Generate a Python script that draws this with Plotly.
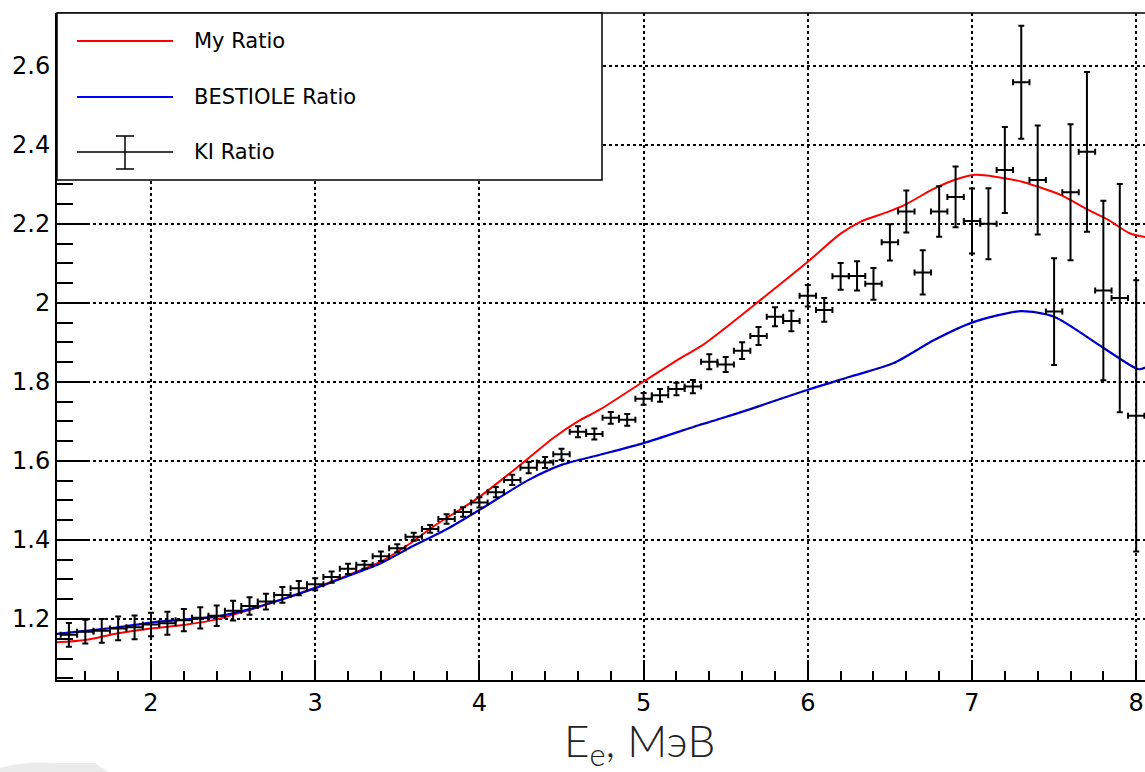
import plotly.graph_objects as go

# ---- data -------------------------------------------------------------
# My Ratio (red curve)
my_x = [1.42, 1.6, 1.8, 2.0, 2.2, 2.4, 2.6, 2.8, 3.0, 3.2, 3.4, 3.57, 3.72,
        4.0, 4.3, 4.45, 4.6, 4.73, 5.0, 5.24, 5.345, 5.49, 5.69, 6.0,
        6.2, 6.32, 6.48, 6.6, 6.76, 6.88, 7.02, 7.16, 7.3, 7.4, 7.54, 7.69,
        7.83, 7.96, 8.06]
my_y = [1.141, 1.147, 1.164, 1.176, 1.185, 1.199, 1.223, 1.250, 1.279, 1.311,
        1.345, 1.389, 1.434, 1.509, 1.607, 1.658, 1.700, 1.729, 1.801,
        1.864, 1.889, 1.934, 2.000, 2.104, 2.175, 2.205, 2.229, 2.250, 2.287,
        2.309, 2.324, 2.318, 2.307, 2.294, 2.273, 2.239, 2.210, 2.176, 2.166]

# BESTIOLE Ratio (blue curve)
best_x = [1.42, 1.6, 1.8, 2.0, 2.2, 2.4, 2.6, 2.8, 3.0, 3.2, 3.4, 3.57, 3.8,
          4.0, 4.3, 4.5, 4.73, 5.0, 5.34, 5.445, 5.65, 6.0, 6.257, 6.52,
          6.77, 7.0, 7.296, 7.5, 7.79, 8.014, 8.06]
best_y = [1.162, 1.170, 1.179, 1.191, 1.198, 1.206, 1.225, 1.250, 1.278, 1.309,
          1.341, 1.379, 1.427, 1.476, 1.552, 1.590, 1.615, 1.645, 1.691,
          1.704, 1.731, 1.780, 1.813, 1.847, 1.906, 1.950, 1.979, 1.965, 1.889,
          1.832, 1.837]

# KI Ratio (points with errors), bins of 0.1 MeV
ki_x = [round(1.5 + 0.1 * i, 1) for i in range(66)]
ki_y = [1.160, 1.168, 1.170, 1.176, 1.179, 1.186, 1.189, 1.197, 1.203, 1.208,
        1.221, 1.233, 1.244, 1.261, 1.278, 1.288, 1.306, 1.327, 1.337, 1.359,
        1.379, 1.408, 1.428, 1.453, 1.471, 1.495, 1.521, 1.552, 1.583, 1.596,
        1.617, 1.674, 1.668, 1.709, 1.704, 1.757, 1.766, 1.782, 1.788, 1.851,
        1.844, 1.879, 1.916, 1.965, 1.954, 2.018, 1.982, 2.067, 2.068, 2.048,
        2.153, 2.231, 2.077, 2.231, 2.268, 2.207, 2.200, 2.336, 2.558, 2.311,
        1.978, 2.280, 2.382, 2.031, 2.012, 1.714]
ki_err = [0.030, 0.030, 0.030, 0.030, 0.030, 0.030, 0.029, 0.028, 0.027, 0.026,
          0.025, 0.022, 0.020, 0.020, 0.018, 0.015, 0.014, 0.013, 0.010, 0.012,
          0.010, 0.010, 0.010, 0.012, 0.012, 0.013, 0.013, 0.013, 0.014, 0.014,
          0.014, 0.014, 0.014, 0.015, 0.015, 0.015, 0.016, 0.016, 0.017, 0.019,
          0.019, 0.021, 0.023, 0.024, 0.026, 0.027, 0.030, 0.034, 0.037, 0.040,
          0.046, 0.053, 0.056, 0.064, 0.077, 0.082, 0.090, 0.109, 0.143, 0.138,
          0.135, 0.172, 0.202, 0.227, 0.289, 0.343]
ki_halfbin = [0.05] * len(ki_x)

legend_labels = ["My Ratio", "BESTIOLE Ratio", "KI Ratio"]

# ---- geometry (pixels) -------------------------------------------------
W, H = 1145, 772
ML, MR, MT, MB = 57, 0, 13, 92
PW, PH = W - ML - MR, H - MT - MB


def px(xp):
    return (xp - ML) / PW


def py(yp):
    return (H - MB - yp) / PH


SANS = "DejaVu Sans, Verdana, sans-serif"
TICK_FONT = dict(family=SANS, size=24, color="black")

fig = go.Figure()

fig.add_trace(go.Scatter(x=my_x, y=my_y, mode="lines",
                         line=dict(color="#ff0000", width=2, shape="spline", smoothing=0.8),
                         name=legend_labels[0]))
fig.add_trace(go.Scatter(x=best_x, y=best_y, mode="lines",
                         line=dict(color="#0000ff", width=2.2, shape="spline", smoothing=0.7),
                         name=legend_labels[1]))
fig.add_trace(go.Scatter(x=best_x, y=best_y, mode="lines",
                         line=dict(color="rgba(0,0,30,0.8)", width=1.2, dash="dot",
                                   shape="spline", smoothing=0.7),
                         showlegend=False, hoverinfo="skip"))
fig.add_trace(go.Scatter(x=ki_x, y=ki_y, mode="markers",
                         marker=dict(size=1, color="black"),
                         error_y=dict(type="data", array=ki_err, visible=True,
                                      color="black", thickness=2, width=3),
                         error_x=dict(type="data", array=ki_halfbin, visible=True,
                                      color="black", thickness=2, width=3),
                         name=legend_labels[2]))

fig.update_layout(
    width=W, height=H,
    margin=dict(l=ML, r=MR, t=MT, b=MB),
    plot_bgcolor="white", paper_bgcolor="white",
    showlegend=False,
)

fig.update_xaxes(
    range=[1.4275, 8.0536], tickmode="linear", tick0=0, dtick=1,
    ticks="inside", ticklen=20, tickwidth=1.5, tickcolor="black",
    showline=True, linewidth=2, linecolor="black", zeroline=False,
    showgrid=True, gridcolor="black", griddash="dot", gridwidth=1.5,
    minor=dict(tick0=0, dtick=0.2, ticks="inside", ticklen=9, tickwidth=1.5,
               tickcolor="black", showgrid=False),
    tickfont=TICK_FONT,
)
fig.update_yaxes(
    range=[1.0456, 2.7334], tickmode="linear", tick0=0, dtick=0.2,
    ticks="inside", ticklen=31, tickwidth=1.5, tickcolor="black",
    showline=True, linewidth=2, linecolor="black", zeroline=False,
    showgrid=True, gridcolor="black", griddash="dot", gridwidth=1.5,
    minor=dict(tick0=0, dtick=0.05, ticks="inside", ticklen=16, tickwidth=1.5,
               tickcolor="black", showgrid=False),
    tickfont=TICK_FONT,
)

shapes = []
# top frame
shapes.append(dict(type="line", xref="paper", yref="paper", x0=0, x1=1, y0=1, y1=1,
                   line=dict(color="black", width=1.5), layer="above"))
# legend box
shapes.append(dict(type="rect", xref="paper", yref="paper",
                   x0=px(57), x1=px(602), y0=py(180), y1=py(13),
                   fillcolor="white", line=dict(color="black", width=1.5), layer="above"))
# legend samples
shapes.append(dict(type="line", xref="paper", yref="paper", x0=px(77), x1=px(173),
                   y0=py(41), y1=py(41), line=dict(color="#ff0000", width=2), layer="above"))
shapes.append(dict(type="line", xref="paper", yref="paper", x0=px(77), x1=px(173),
                   y0=py(97), y1=py(97), line=dict(color="#0000ff", width=2), layer="above"))
shapes.append(dict(type="line", xref="paper", yref="paper", x0=px(77), x1=px(173),
                   y0=py(152), y1=py(152), line=dict(color="black", width=1.5), layer="above"))
shapes.append(dict(type="line", xref="paper", yref="paper", x0=px(125), x1=px(125),
                   y0=py(136), y1=py(169), line=dict(color="black", width=1.5), layer="above"))
for yc in (136, 169):
    shapes.append(dict(type="line", xref="paper", yref="paper", x0=px(116), x1=px(134),
                       y0=py(yc), y1=py(yc), line=dict(color="black", width=1.5),
                       layer="above"))
# light grey mark in the lower-left corner
shapes.append(dict(type="path", xref="paper", yref="paper",
                   path=(f"M {px(0)},{py(772)} L {px(0)},{py(768)} "
                         f"Q {px(25)},{py(761)} {px(55)},{py(763)} "
                         f"L {px(95)},{py(763)} L {px(108)},{py(772)} Z"),
                   fillcolor="#ebebeb", line=dict(width=0), layer="below"))

annotations = []
for label, yc in zip(legend_labels, (41, 97, 152)):
    annotations.append(dict(text=label, xref="paper", yref="paper",
                            x=px(192), y=py(yc), xanchor="left", yanchor="middle",
                            showarrow=False,
                            font=dict(family=SANS, size=21, color="black")))
annotations.append(dict(text="E<sub>e</sub>, МэВ", xref="paper", yref="paper",
                        x=px(639), y=py(743), xanchor="center", yanchor="middle",
                        showarrow=False,
                        font=dict(family="Lato, sans-serif", size=44, color="#222222",
                                  weight=300)))

fig.update_layout(shapes=shapes, annotations=annotations)

fig.write_html("out.html")
